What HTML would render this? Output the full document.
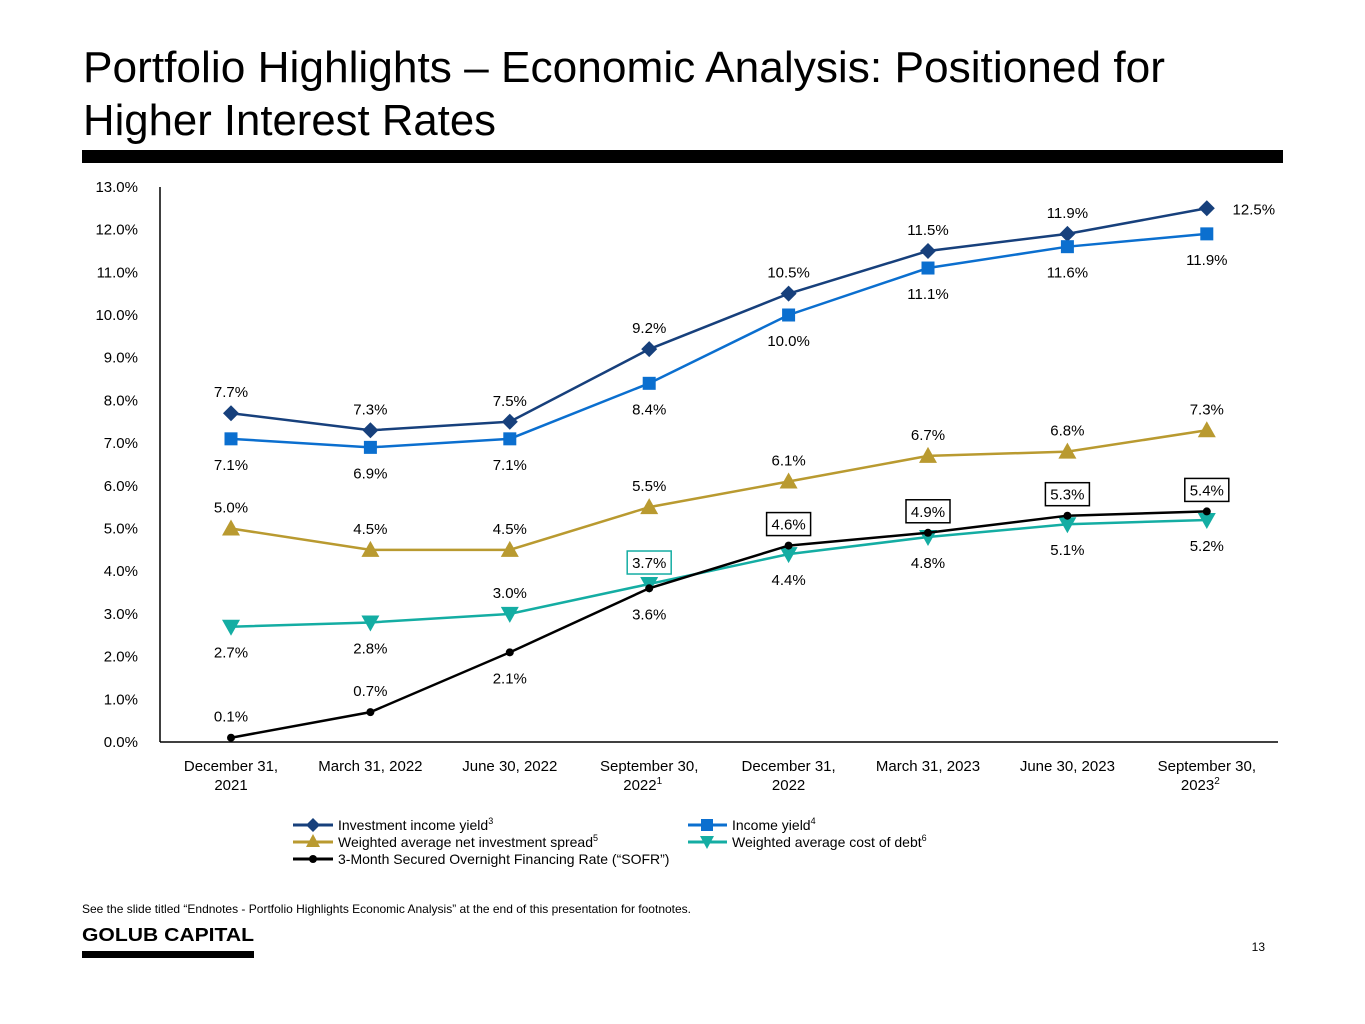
<!DOCTYPE html>
<html><head><meta charset="utf-8"><style>
html,body{margin:0;padding:0;background:#fff}
svg{display:block;font-family:"Liberation Sans",sans-serif}
</style></head><body>
<svg id="c" width="1365" height="1024" viewBox="0 0 1365 1024">
<text x="83" y="82" font-size="44" fill="#000" textLength="1082" lengthAdjust="spacingAndGlyphs">Portfolio Highlights – Economic Analysis: Positioned for</text>
<text x="83" y="135" font-size="44" fill="#000" textLength="413" lengthAdjust="spacingAndGlyphs">Higher Interest Rates</text>
<rect x="82" y="150" width="1201" height="13" fill="#000"/>
<g id="chart"></g>
<g font-size="14" fill="#000">
 <g>
  <line x1="293" y1="825" x2="333" y2="825" stroke="#17407c" stroke-width="3"/>
  <path d="M313 818 L320 825 L313 832 L306 825Z" fill="#17407c"/>
  <text x="338" y="830">Investment income yield<tspan font-size="9" dy="-6">3</tspan></text></g>
 <g>
  <line x1="688" y1="825" x2="727" y2="825" stroke="#0b6fcf" stroke-width="3"/>
  <rect x="701" y="819" width="12" height="12" fill="#0b6fcf"/>
  <text x="732" y="830">Income yield<tspan font-size="9" dy="-6">4</tspan></text></g>
 <g>
  <line x1="293" y1="842" x2="333" y2="842" stroke="#b99a30" stroke-width="3"/>
  <path d="M313 834 L320 847 L306 847Z" fill="#b99a30"/>
  <text x="338" y="847">Weighted average net investment spread<tspan font-size="9" dy="-6">5</tspan></text></g>
 <g>
  <line x1="688" y1="842" x2="727" y2="842" stroke="#14ada3" stroke-width="3"/>
  <path d="M700 836 L714 836 L707 849Z" fill="#14ada3"/>
  <text x="732" y="847">Weighted average cost of debt<tspan font-size="9" dy="-6">6</tspan></text></g>
 <g>
  <line x1="293" y1="859" x2="333" y2="859" stroke="#000" stroke-width="3"/>
  <circle cx="313" cy="859" r="4" fill="#000"/>
  <text x="338" y="864">3-Month Secured Overnight Financing Rate (“SOFR”)</text></g>
</g>
<text x="82" y="913" font-size="12">See the slide titled “Endnotes - Portfolio Highlights Economic Analysis” at the end of this presentation for footnotes.</text>
<text x="82" y="941" font-size="18" font-weight="bold" textLength="172" lengthAdjust="spacingAndGlyphs">GOLUB CAPITAL</text>
<rect x="82" y="951" width="172" height="7" fill="#000"/>
<text x="1265" y="951" font-size="12" text-anchor="end">13</text>
</svg>
<script>
const categories=[["December 31,","2021",""],["March 31, 2022","",""],["June 30, 2022","",""],["September 30,","2022","1"],["December 31,","2022",""],["March 31, 2023","",""],["June 30, 2023","",""],["September 30,","2023","2"]];
const yTicks=[0,1,2,3,4,5,6,7,8,9,10,11,12,13];
const investmentIncomeYield=[7.7,7.3,7.5,9.2,10.5,11.5,11.9,12.5];
const incomeYield=[7.1,6.9,7.1,8.4,10.0,11.1,11.6,11.9];
const netSpread=[5.0,4.5,4.5,5.5,6.1,6.7,6.8,7.3];
const costOfDebt=[2.7,2.8,3.0,3.7,4.4,4.8,5.1,5.2];
const sofr=[0.1,0.7,2.1,3.6,4.6,4.9,5.3,5.4];

const NS="http://www.w3.org/2000/svg";
const g=document.getElementById('chart');
const y=v=>742-v*42.7;
const x=i=>231+i*139.4;
function el(t,a,p){const e=document.createElementNS(NS,t);for(const k in a)e.setAttribute(k,a[k]);(p||g).appendChild(e);return e;}
// axes
const ax=el('line',{x1:160,y1:187,x2:160,y2:742,stroke:'#000','stroke-width':1.5});


const bx=el('line',{x1:160,y1:742,x2:1278,y2:742,stroke:'#000','stroke-width':1.5});


yTicks.forEach(v=>{const t=el('text',{x:138,y:y(v)+5,'font-size':15,'text-anchor':'end'});t.textContent=v.toFixed(1)+'%';

});
categories.forEach((c,i)=>{const t=el('text',{x:x(i),y:771,'font-size':15,'text-anchor':'middle'});t.textContent=c[0];


if(c[1]){const t2=el('text',{x:x(i)+(c[2]?-8:0),y:790,'font-size':15,'text-anchor':c[2]?'end':'middle'});t2.textContent=c[1];
if(c[2]){t2.setAttribute('x',x(i)+13);const s=el('tspan',{'font-size':10,dy:-6});s.textContent=c[2];t2.appendChild(s);}

}});
function series(name,vals,color,marker,pos){
 const pl=el('polyline',{points:vals.map((v,i)=>x(i)+','+y(v)).join(' '),fill:'none',stroke:color,'stroke-width':2.5});
 
 
 vals.forEach((v,i)=>{const cx=x(i),cy=y(v);let m;
  if(marker=='d')m=el('path',{d:`M${cx} ${cy-8}L${cx+8} ${cy}L${cx} ${cy+8}L${cx-8} ${cy}Z`,fill:color});
  else if(marker=='s')m=el('rect',{x:cx-6.5,y:cy-6.5,width:13,height:13,fill:color});
  else if(marker=='t')m=el('path',{d:`M${cx} ${cy-9}L${cx+9} ${cy+7}L${cx-9} ${cy+7}Z`,fill:color});
  else if(marker=='v')m=el('path',{d:`M${cx-9} ${cy-7}L${cx+9} ${cy-7}L${cx} ${cy+9}Z`,fill:color});
  else m=el('circle',{cx:cx,cy:cy,r:4,fill:color});
  
  
  const p=pos[i];let lx=cx,ly=p[0]=='a'?cy-16:cy+31;
  if(p[0]=='r'){lx=cx+47;ly=cy+6;}
  const t=el('text',{x:lx,y:ly,'font-size':15,'text-anchor':'middle'});t.textContent=v.toFixed(1)+'%';
  
  
  if(p[1]){const b=el('rect',{x:lx-22,y:ly-17,width:44,height:23,fill:'none',stroke:p[1],'stroke-width':1.5});
  
  }
 });
}
series('investment-income-yield',investmentIncomeYield,'#17407c','d',['a','a','a','a','a','a','a','r']);
series('income-yield',incomeYield,'#0b6fcf','s',['b','b','b','b','b','b','b','b']);
series('net-investment-spread',netSpread,'#b99a30','t',['a','a','a','a','a','a','a','a']);
series('cost-of-debt',costOfDebt,'#14ada3','v',['b','b','a',['a','#14ada3'],'b','b','b','b']);
series('sofr',sofr,'#000','c',['a','a','b','b',['a','#000'],['a','#000'],['a','#000'],['a','#000']]);
</script>
</body></html>
